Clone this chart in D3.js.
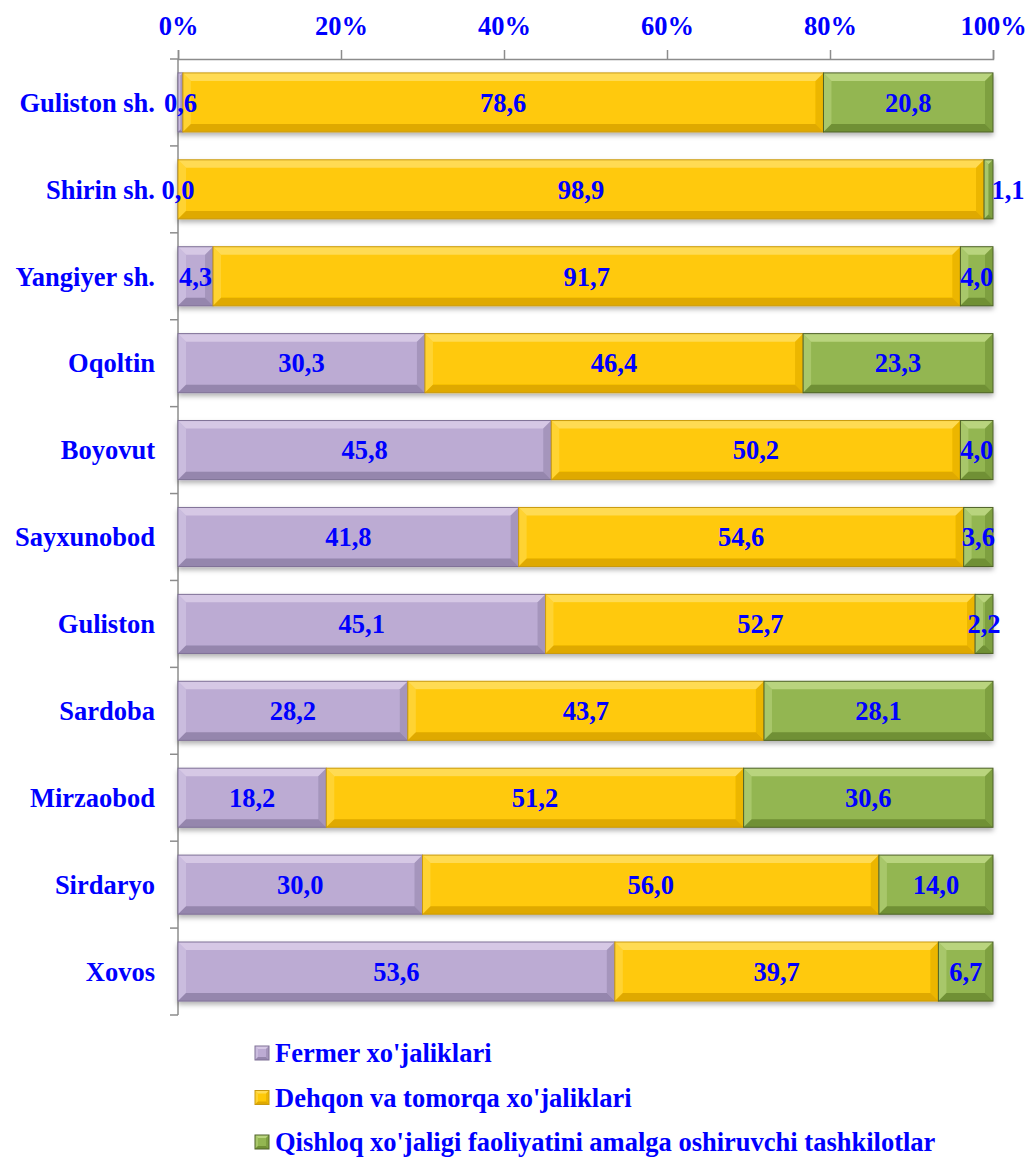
<!DOCTYPE html>
<html>
<head>
<meta charset="utf-8">
<script src="https://cdn.jsdelivr.net/npm/d3@7"></script>
<style>
  body { margin: 0; background: #fff; }
  text { font-family: "Liberation Serif", "Times New Roman", serif; font-weight: bold; fill: #0000ff; }
</style>
</head>
<body>
<div id="chart"></div>
<script>
// categories, top to bottom
var districts = ["Guliston sh.", "Shirin sh.", "Yangiyer sh.", "Oqoltin", "Boyovut", "Sayxunobod",
                 "Guliston", "Sardoba", "Mirzaobod", "Sirdaryo", "Xovos"];
var series = ["Fermer xo'jaliklari", "Dehqon va tomorqa xo'jaliklari",
              "Qishloq xo'jaligi faoliyatini amalga oshiruvchi tashkilotlar"];
var fermer = [0.6, 0.0, 4.3, 30.3, 45.8, 41.8, 45.1, 28.2, 18.2, 30.0, 53.6];
var dehqon = [78.6, 98.9, 91.7, 46.4, 50.2, 54.6, 52.7, 43.7, 51.2, 56.0, 39.7];
var tashkilot = [20.8, 1.1, 4.0, 23.3, 4.0, 3.6, 2.2, 28.1, 30.6, 14.0, 6.7];
var ticks = [0, 0.2, 0.4, 0.6, 0.8, 1];

var colors = [
    {fill: "#bcabd3", light: "#dcd0ea", dark: "#8e7fa6", edge: "#7f7196"},
    {fill: "#ffc907", light: "#ffe066", dark: "#d9a300", edge: "#c99a10"},
    {fill: "#93b651", light: "#c3dc8a", dark: "#6a8a30", edge: "#4f6228"}
];

var W = 1027, H = 1158;
var margin = {top: 59, left: 178, right: 34, bottom: 143};
var width = W - margin.left - margin.right,
    height = H - margin.top - margin.bottom;
var fs = "26.5px";

var svg = d3.select("#chart").append("svg")
            .attr("width", W).attr("height", H);

var defs = svg.append("defs");
var f = defs.append("filter").attr("id", "shadow")
            .attr("x", "-5%").attr("y", "-20%").attr("width", "110%").attr("height", "150%");
f.append("feDropShadow").attr("dx", 0).attr("dy", 3).attr("stdDeviation", 2.5)
 .attr("flood-color", "#000").attr("flood-opacity", 0.3);

var g = svg.append("g").attr("transform", "translate(" + margin.left + "," + margin.top + ")");

var xScale = d3.scaleLinear().domain([0, 1]).range([0, width]);
var yScale = d3.scaleBand().domain(districts).range([0, height]).paddingInner(0.32).paddingOuter(0.16);

// axes
var xAxis = g.append("g").call(d3.axisTop(xScale).tickValues(ticks).tickFormat(d3.format(".0%")).tickSize(9).tickPadding(15));
xAxis.select(".domain").attr("stroke", "#8c8c8c").attr("stroke-width", 1.5);
xAxis.selectAll(".tick line").attr("stroke", "#8c8c8c").attr("stroke-width", 1.5);
xAxis.selectAll("text").style("font-size", fs).attr("fill", "#0000ff")
     .style("font-family", "'Liberation Serif', serif").style("font-weight", "bold");

var yAxis = g.append("g");
yAxis.append("line").attr("x1", 0).attr("x2", 0).attr("y1", 0).attr("y2", height)
     .attr("stroke", "#8c8c8c").attr("stroke-width", 1.5);
var bounds = d3.range(districts.length + 1).map(i => i * yScale.step());
yAxis.selectAll(".bnd").data(bounds).enter().append("line")
     .attr("x1", -8).attr("x2", 0).attr("y1", d => d).attr("y2", d => d)
     .attr("stroke", "#8c8c8c").attr("stroke-width", 1.5);
yAxis.selectAll(".lbl").data(districts).enter().append("text")
     .attr("x", -23).attr("y", d => yScale(d) + yScale.bandwidth() / 2)
     .attr("text-anchor", "end").attr("dy", "0.35em")
     .style("font-size", fs).text(d => d);

// bevelled box
function bevel(sel, x, y, w, h, c, b) {
    b = Math.min(b, w / 2, h / 2);
    sel.append("rect").attr("x", x).attr("y", y).attr("width", w).attr("height", h).attr("fill", c.fill);
    sel.append("path").attr("fill", c.light).attr("opacity", 0.8)
       .attr("d", "M" + x + "," + y + "H" + (x + w) + "L" + (x + w - b) + "," + (y + b) + "H" + (x + b) + "Z");
    sel.append("path").attr("fill", c.light).attr("opacity", 0.45)
       .attr("d", "M" + x + "," + y + "L" + (x + b) + "," + (y + b) + "V" + (y + h - b) + "L" + x + "," + (y + h) + "Z");
    sel.append("path").attr("fill", c.dark).attr("opacity", 0.85)
       .attr("d", "M" + x + "," + (y + h) + "H" + (x + w) + "L" + (x + w - b) + "," + (y + h - b) + "H" + (x + b) + "Z");
    sel.append("path").attr("fill", c.dark).attr("opacity", 0.5)
       .attr("d", "M" + (x + w) + "," + y + "L" + (x + w - b) + "," + (y + b) + "V" + (y + h - b) + "L" + (x + w) + "," + (y + h) + "Z");
    sel.append("rect").attr("x", x).attr("y", y).attr("width", w).attr("height", h)
       .attr("fill", "none").attr("stroke", c.edge).attr("stroke-width", 1);
}

var rows = districts.map((d, i) => ({name: d, vals: [fermer[i], dehqon[i], tashkilot[i]]}));

var bars = g.append("g");
rows.forEach(function(r) {
    var total = d3.sum(r.vals);
    var start = 0;
    var row = bars.append("g").attr("filter", "url(#shadow)");
    var y = yScale(r.name), h = yScale.bandwidth();
    r.vals.forEach(function(v, k) {
        var x0 = xScale(start / total), x1 = xScale((start + v) / total);
        if (x1 - x0 > 0.3) bevel(row.append("g"), x0, y, x1 - x0, h, colors[k], 8);
        start += v;
    });
});

// value labels
var labels = g.append("g");
rows.forEach(function(r) {
    var total = d3.sum(r.vals);
    var start = 0;
    r.vals.forEach(function(v, k) {
        var x0 = xScale(start / total), x1 = xScale((start + v) / total);
        var cx = (x0 + x1) / 2;
        // very thin last segment: label pushed outside the bar end
        if (k == 2 && x1 - x0 < 12) cx = x1 + 15;
        labels.append("text").attr("x", cx).attr("y", yScale(r.name) + yScale.bandwidth() / 2)
              .attr("dy", "0.35em").attr("text-anchor", "middle")
              .style("font-size", fs).text(d3.format(".1f")(v).replace(".", ","));
        start += v;
    });
});

// legend
var legend = svg.append("g").attr("transform", "translate(255,1053)");
series.forEach(function(s, k) {
    var lg = legend.append("g").attr("transform", "translate(0," + (k * 44.5) + ")");
    bevel(lg, 0, -7, 14, 14, colors[k], 3);
    lg.append("text").attr("x", 20).attr("dy", "0.35em").style("font-size", fs).text(s);
});
</script>
</body>
</html>
